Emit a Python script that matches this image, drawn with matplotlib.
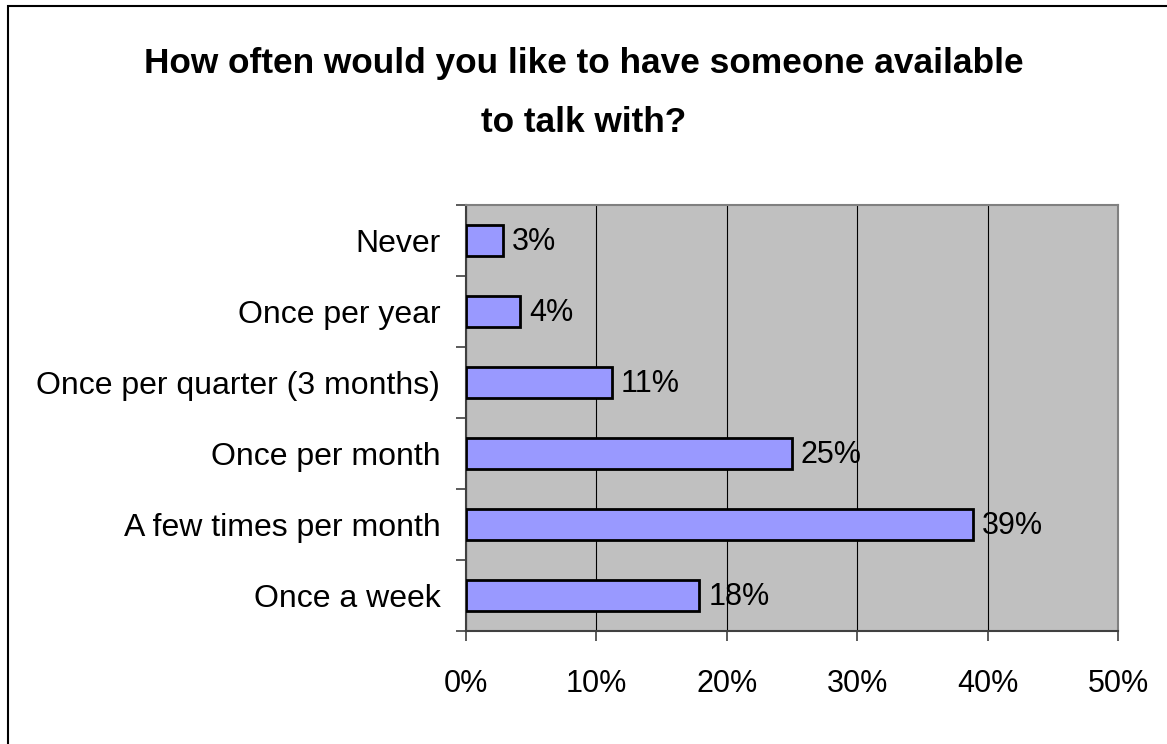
import matplotlib
matplotlib.use("Agg")
import matplotlib.pyplot as plt
from matplotlib.ticker import FuncFormatter, FixedLocator
from matplotlib.patches import Rectangle

categories = ["Once a week", "A few times per month", "Once per month",
              "Once per quarter (3 months)", "Once per year", "Never"]
values = [17.9, 38.85, 24.97, 11.17, 4.14, 2.8]
x_ticks = [0, 10, 20, 30, 40, 50]
title_lines = ["How often would you like to have someone available", "to talk with?"]

plt.rcParams['font.family'] = ['Liberation Sans', 'DejaVu Sans']

fig = plt.figure(figsize=(11.67, 7.44), dpi=100)
W, H = 1167, 744
ax = fig.add_axes([466 / W, 1 - 631 / H, (1118 - 466) / W, (631 - 205) / H])

ax.set_facecolor('#C0C0C0')
pos = list(range(len(categories)))
ax.barh(pos, values, height=0.44, color='#9999FF', edgecolor='black', linewidth=2, zorder=3)
for p, v in zip(pos, values):
    ax.text(v + 0.7, p - 0.02, f"{v:.0f}%", va='center', ha='left', fontsize=22, zorder=4)

ax.set_xlim(0, 50)
ax.set_ylim(-0.5, len(categories) - 0.5)
ax.xaxis.set_major_locator(FixedLocator(x_ticks))
ax.xaxis.set_major_formatter(FuncFormatter(lambda x, _: f"{x:.0f}%"))
ax.grid(axis='x', color='black', linewidth=0.8, zorder=1)

ax.set_yticks(pos)
ax.set_yticklabels(categories, fontsize=23)
ax.tick_params(axis='y', length=0, pad=18.5)
ax.set_yticks([p - 0.5 for p in pos] + [len(pos) - 0.5], minor=True)
ax.tick_params(axis='y', which='minor', length=7, width=1.2, color='#404040', direction='out')
ax.tick_params(axis='x', labelsize=22, length=7, width=1.2, color='#404040', pad=20)

for s in ['top', 'right']:
    ax.spines[s].set_color('#808080')
    ax.spines[s].set_linewidth(1.5)
for s in ['left', 'bottom']:
    ax.spines[s].set_color('#404040')
    ax.spines[s].set_linewidth(1.5)

fig.text(0.5, 1 - 73 / H, title_lines[0], ha='center', va='baseline', fontsize=25.4,
         fontweight='bold')
fig.text(0.5, 1 - 132 / H, title_lines[1], ha='center', va='baseline', fontsize=25.4,
         fontweight='bold')

fig.patches.append(Rectangle((7.5 / W, -0.1), 1.2, 1 - 6 / H + 0.1, transform=fig.transFigure,
                             fill=False, edgecolor='black', linewidth=1.5))

fig.savefig("out.png", dpi=100)
